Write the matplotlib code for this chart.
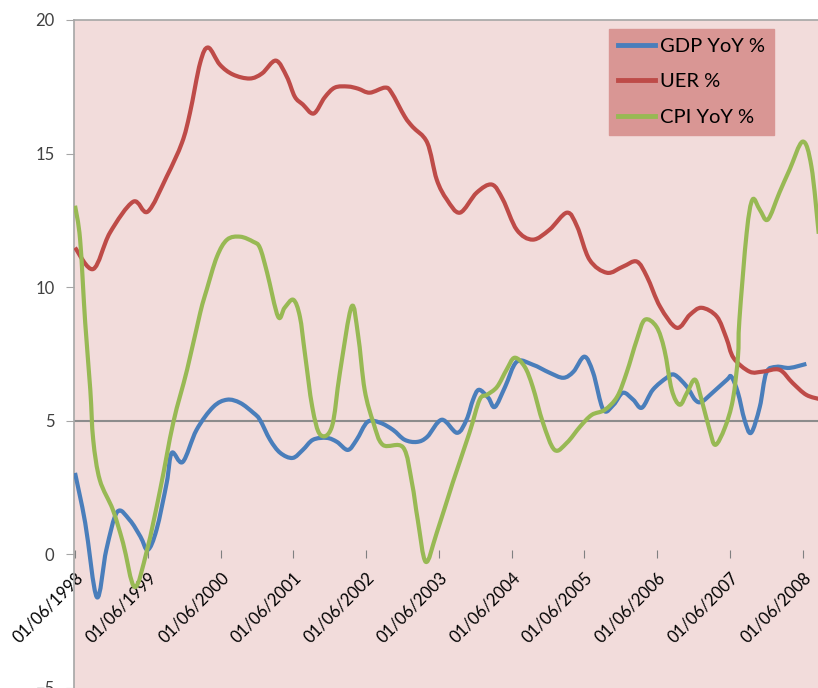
import numpy as np
import pandas as pd
import matplotlib
matplotlib.use("Agg")
import matplotlib.pyplot as plt
import matplotlib.dates as mdates
from matplotlib.path import Path
from matplotlib.patches import PathPatch
from matplotlib.lines import Line2D

plt.rcParams['font.family'] = ['Lato', 'DejaVu Sans']

# x positions are years after 01/06/1998
gdp_t = [0.0, 0.14, 0.30, 0.43, 0.58, 0.75, 0.90, 1.00, 1.12, 1.26, 1.33, 1.48, 1.67, 1.90,
         2.09, 2.27, 2.45, 2.54, 2.68, 2.82, 2.99, 3.13, 3.27, 3.46, 3.60, 3.75, 3.87, 4.02,
         4.19, 4.37, 4.53, 4.70, 4.84, 5.04, 5.25, 5.38, 5.47, 5.55, 5.68, 5.77, 5.91, 6.07,
         6.29, 6.52, 6.71, 6.85, 7.00, 7.12, 7.26, 7.40, 7.53, 7.67, 7.79, 7.94, 8.13, 8.24,
         8.41, 8.52, 8.61, 8.76, 8.96, 9.02, 9.11, 9.20, 9.29, 9.41, 9.50, 9.64, 9.82, 10.05]
gdp = [3.05, 1.18, -1.6, 0.17, 1.59, 1.29, 0.66, 0.17, 0.92, 2.68, 3.8, 3.46, 4.66, 5.52,
       5.79, 5.67, 5.30, 5.04, 4.29, 3.80, 3.61, 3.91, 4.29, 4.36, 4.21, 3.91, 4.29, 4.96,
       4.93, 4.66, 4.29, 4.21, 4.40, 5.04, 4.55, 5.04, 5.79, 6.16, 5.86, 5.52, 6.27, 7.21,
       7.10, 6.80, 6.61, 6.84, 7.40, 6.80, 5.41, 5.60, 6.05, 5.79, 5.49, 6.16, 6.61, 6.72,
       6.27, 5.79, 5.71, 6.05, 6.54, 6.65, 6.05, 5.04, 4.55, 5.52, 6.80, 7.02, 6.98, 7.13]

uer_t = [0.0, 0.25, 0.48, 0.80, 1.00, 1.26, 1.47, 1.58, 1.72, 1.83, 1.99, 2.17, 2.40, 2.57,
         2.76, 2.91, 3.02, 3.13, 3.28, 3.43, 3.57, 3.75, 3.89, 4.05, 4.26, 4.35, 4.53, 4.64,
         4.84, 4.97, 5.11, 5.29, 5.52, 5.73, 5.88, 6.07, 6.29, 6.52, 6.76, 6.90, 7.07, 7.31,
         7.53, 7.72, 7.86, 8.04, 8.27, 8.45, 8.61, 8.82, 8.95, 9.05, 9.27, 9.45, 9.68, 9.86,
         10.05, 10.25]
uer = [11.48, 10.68, 12.04, 13.2, 12.83, 14.14, 15.41, 16.53, 18.40, 18.97, 18.33, 17.96, 17.81, 18.00,
       18.48, 17.88, 17.13, 16.84, 16.50, 17.10, 17.47, 17.51, 17.43, 17.28, 17.47, 17.28, 16.39, 16.00,
       15.41, 14.03, 13.28, 12.79, 13.54, 13.84, 13.28, 12.15, 11.78, 12.15, 12.79, 12.27, 11.03, 10.54,
       10.77, 10.96, 10.39, 9.27, 8.48, 8.97, 9.23, 8.90, 8.10, 7.35, 6.84, 6.84, 6.91, 6.42,
       5.97, 5.80]

cpi_t = [0.0, 0.07, 0.14, 0.21, 0.25, 0.34, 0.52, 0.66, 0.82, 0.99, 1.17, 1.35, 1.54, 1.72,
         1.81, 1.95, 2.09, 2.27, 2.45, 2.54, 2.64, 2.79, 2.88, 3.00, 3.09, 3.16, 3.26, 3.37,
         3.53, 3.64, 3.80, 3.89, 3.98, 4.10, 4.23, 4.51, 4.63, 4.71, 4.82, 4.97, 5.19, 5.42,
         5.56, 5.66, 5.80, 5.93, 6.04, 6.18, 6.29, 6.43, 6.59, 6.76, 6.94, 7.10, 7.28, 7.45,
         7.58, 7.72, 7.83, 7.99, 8.10, 8.20, 8.31, 8.41, 8.52, 8.61, 8.72, 8.80, 8.93, 9.04,
         9.11, 9.13, 9.23, 9.31, 9.41, 9.52, 9.68, 9.82, 10.00, 10.12, 10.22]
cpi = [13.05, 11.78, 8.67, 6.16, 4.29, 2.79, 1.67, 0.43, -1.22, 0.17, 2.42, 4.93, 6.91, 9.04,
       9.91, 11.14, 11.78, 11.89, 11.70, 11.48, 10.54, 8.90, 9.23, 9.53, 8.90, 7.50, 5.52, 4.48,
       4.78, 6.80, 9.27, 8.20, 6.16, 4.93, 4.10, 4.00, 2.68, 1.29, -0.28, 0.80, 2.68, 4.55,
       5.79, 5.97, 6.27, 6.91, 7.36, 7.02, 6.27, 4.93, 3.91, 4.18, 4.78, 5.22, 5.41, 5.90,
       6.80, 8.03, 8.78, 8.52, 7.65, 6.16, 5.60, 6.05, 6.54, 5.79, 4.66, 4.10, 4.74, 5.79,
       7.40, 8.78, 12.04, 13.28, 12.90, 12.53, 13.54, 14.40, 15.45, 14.51, 12.0]

tick_years = list(range(1998, 2009))
tick_labels = ['01/06/%d' % y for y in tick_years]
y_ticks = [-5, 0, 5, 10, 15, 20]

start = pd.Timestamp('1998-06-01')


def to_dates(t):
    return start + pd.to_timedelta(np.array(t) * 365.25, unit='D')


def smooth_line(ax, t, v, color, label):
    # excel style "smoothed line": catmull-rom segments drawn as cubic beziers
    x = mdates.date2num(to_dates(t))
    p = np.column_stack([x, np.array(v, dtype=float)])
    pad = np.vstack([p[0], p, p[-1]])
    verts = [p[0]]
    codes = [Path.MOVETO]
    for i in range(len(p) - 1):
        p0, p1, p2, p3 = pad[i], pad[i + 1], pad[i + 2], pad[i + 3]
        verts += [p1 + (p2 - p0) / 6, p2 - (p3 - p1) / 6, p2]
        codes += [Path.CURVE4] * 3
    ax.add_patch(PathPatch(Path(verts, codes), fill=False, edgecolor=color, lw=3,
                           joinstyle='round', capstyle='butt', zorder=3))
    return Line2D([], [], color=color, lw=3.5, label=label)


fig = plt.figure(figsize=(8.18, 6.88), dpi=100)
ax = fig.add_axes([74 / 818, 0, 1 - 74 / 818, 668 / 688])
ax.set_facecolor('#F2DCDB')

ax.axhline(5, color='#8C8C8C', lw=1.5, zorder=1)
handles = [
    smooth_line(ax, gdp_t, gdp, '#4A7EBB', 'GDP YoY %'),
    smooth_line(ax, uer_t, uer, '#BE4B48', 'UER %'),
    smooth_line(ax, cpi_t, cpi, '#98B954', 'CPI YoY %'),
]

# x axis sits at y = 0 (spine hidden), grey line at 5
ax.spines['bottom'].set_position(('data', 0))
ax.spines['bottom'].set_color('none')
ax.spines['right'].set_visible(False)
ax.spines['top'].set_color('#A6A6A6')
ax.spines['left'].set_color('#A6A6A6')
ax.spines['top'].set_linewidth(1.2)
ax.spines['left'].set_linewidth(1.2)

ax.xaxis_date()
ax.set_ylim(-5, 20)
ax.set_xlim(to_dates([-0.014])[0], to_dates([10.21])[0])
ax.set_yticks(y_ticks)
ax.set_xticks([pd.Timestamp('%d-06-01' % y) for y in tick_years])
ax.set_xticklabels(tick_labels)

ax.tick_params(axis='y', direction='out', length=6, color='#A6A6A6', labelcolor='#404040',
               labelsize=12, pad=8)
ax.tick_params(axis='x', direction='inout', length=6, color='#808080', labelcolor='black',
               labelsize=12, pad=8)
for lab in ax.get_xticklabels():
    lab.set_rotation(45)
    lab.set_ha('right')
    lab.set_rotation_mode('anchor')

ax.legend(handles=handles, loc='upper left', bbox_to_anchor=(609 / 818, 1 - 29 / 688),
          bbox_transform=fig.transFigure, fancybox=False, facecolor='#D99694', edgecolor='#D99694',
          framealpha=1, fontsize=14.5, handlelength=1.85, handletextpad=0.25, labelspacing=0.9,
          borderpad=0.45, borderaxespad=0)

plt.savefig('out.png', dpi=100)
